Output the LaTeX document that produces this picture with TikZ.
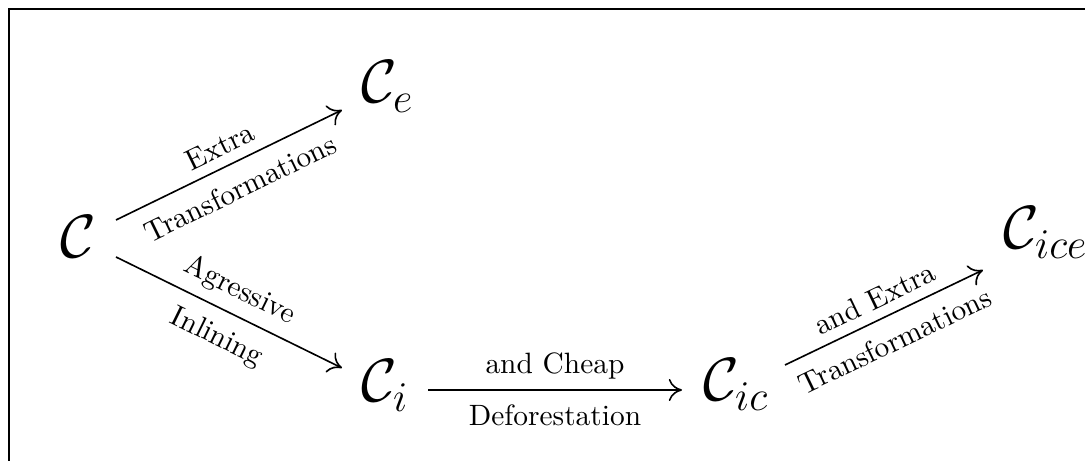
\documentclass[tikz,border=0pt]{standalone}
\usetikzlibrary{arrows.meta}
\begin{document}
\begin{tikzpicture}[x=0.34pt,y=-0.34pt,
  obj/.style={anchor=base west,inner sep=0pt,outer sep=0pt,font=\fontsize{19.5}{22}\selectfont},
  arr/.style={-{To[length=4.5pt,width=7.5pt]},line width=0.55pt},
  labup/.style={sloped,above,font=\normalsize},
  labdn/.style={sloped,below=1.5pt,font=\normalsize}]
\useasboundingbox (0,0) rectangle (1087,461);
\draw[line width=0.8pt] (9,461) -- (9,9) -- (1085,9);
\node[obj] (c) at (60,258) {$\mathcal{C}$};
\node[obj] (ce) at (361,103) {$\mathcal{C}_e$};
\node[obj] (ci) at (361,402) {$\mathcal{C}_i$};
\node[obj] (cic) at (703,401) {$\mathcal{C}_{ic}$};
\node[obj] (cice) at (1003,249) {$\mathcal{C}_{ice}$};
\draw[arr] ([shift={(56,-38)}]c.base west) -- node[labup]{Extra} node[labdn]{Transformations} ([shift={(-19,7)}]ce.base west);
\draw[arr] ([shift={(56,-1)}]c.base west) -- node[labup]{Agressive} node[labdn]{Inlining} ([shift={(-19,-34)}]ci.base west);
\draw[arr] ([shift={(67,-12)}]ci.base west) -- node[labup]{and Cheap} node[labdn]{Deforestation} ([shift={(-21,-11)}]cic.base west);
\draw[arr] ([shift={(82,-36)}]cic.base west) -- node[labup]{and Extra} node[labdn]{Transformations} ([shift={(-20,21)}]cice.base west);
\end{tikzpicture}
\end{document}
